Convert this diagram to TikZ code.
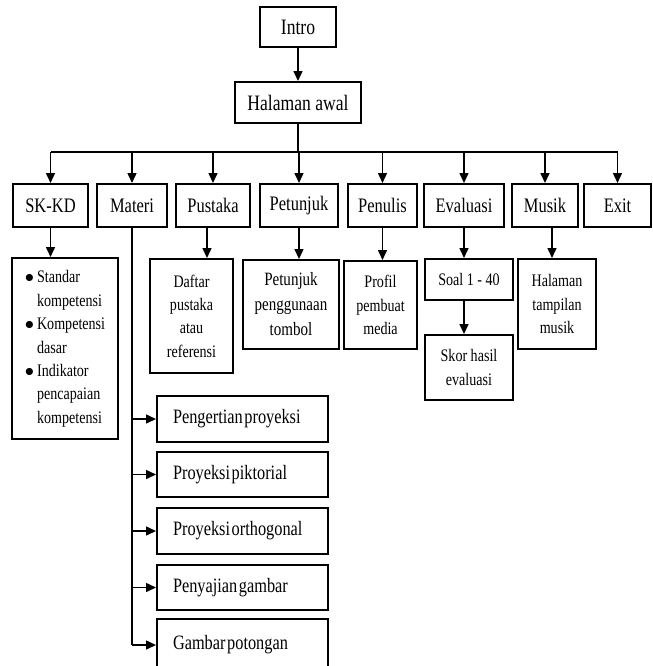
\documentclass[tikz,border=0pt]{standalone}
\usepackage{fontspec}
\setmainfont{Liberation Serif}[FakeStretch=0.8]
\newfontfamily\babfont{Liberation Serif}[FakeStretch=0.8,WordSpace=0.4]
\usetikzlibrary{arrows.meta,calc}
\newcommand{\babtext}[1]{\makebox[69.5pt][l]{#1}}
\tikzset{
  box/.style={draw, line width=1pt, inner sep=0pt, align=center},
  big/.style={font=\fontsize{11}{13}\selectfont},
  menu/.style={box, font=\fontsize{10.3}{12}\selectfont, minimum height=21.5pt},
  sub/.style={box, font=\fontsize{8.8}{11.7}\selectfont},
  bab/.style={box, font=\babfont\fontsize{10.2}{12}\selectfont, minimum width=85.5pt},
  link/.style={line width=0.75pt},
  arr/.style={link, -{Triangle[length=5pt,width=4.5pt]}}
}
\begin{document}
\begin{tikzpicture}[x=0.5pt,y=-0.5pt]
\useasboundingbox (0,0) rectangle (653,666);
\clip (0,0) rectangle (653,666);
% atas
\node [box,big,minimum width=38pt,minimum height=20pt] (intro) at (298,27) {Intro};
\node [box,big,minimum width=63pt,minimum height=20.5pt] (awal) at (298,102.5) {Halaman awal};
\draw [arr] (intro) -- (awal);
% menu utama
\node [menu,minimum width=37.5pt] (skkd) at (50.5,205.5) {SK-KD};
\node [menu,minimum width=35pt] (materi) at (132,205.5) {Materi};
\node [menu,minimum width=37pt] (pustaka) at (213,205.5) {Pustaka};
\node [menu,minimum width=39pt] (petunjuk) at (299,205.5) {Petunjuk};
\node [menu,minimum width=34.5pt] (penulis) at (382.5,205.5) {Penulis};
\node [menu,minimum width=40pt] (evaluasi) at (464,205.5) {Evaluasi};
\node [menu,minimum width=33pt] (musik) at (545,205.5) {Musik};
\node [menu,minimum width=33.5pt] (exit) at (617.5,205.5) {Exit};
\coordinate (bus) at (298,152);
\draw [link] (awal) -- (bus);
\draw [link] (bus -| skkd.north) -- (bus -| exit.north);
\foreach \m in {skkd,materi,pustaka,petunjuk,penulis,evaluasi,musik,exit}
  \draw [arr] (bus -| \m.north) -- (\m.north);
% isi menu
\node [sub,minimum width=53pt,minimum height=90.5pt] (sk) at (65,348.5)
  {\begin{tabular}{@{}l@{\,}l@{}}
   $\bullet$ & Standar\\ & kompetensi\\
   $\bullet$ & Kompetensi\\ & dasar\\
   $\bullet$ & Indikator\\ & pencapaian\\ & kompetensi
   \end{tabular}};
\node [sub,minimum width=41.5pt,minimum height=57pt] (daftar) at (191.5,316) {Daftar\\pustaka\\atau\\referensi};
\node [sub,font=\fontsize{9.4}{12.5}\selectfont,minimum width=48pt,minimum height=44.5pt] (tombol) at (291,304.5) {Petunjuk\\penggunaan\\tombol};
\node [sub,minimum width=36.5pt,minimum height=44pt] (profil) at (380.5,305) {Profil\\pembuat\\media};
\node [sub,minimum width=44pt,minimum height=20.5pt] (soal) at (469,279.5) {Soal 1 - 40};
\node [sub,minimum width=44pt,minimum height=32.5pt] (skor) at (469,367.5) {Skor hasil\\evaluasi};
\node [sub,minimum width=39pt,minimum height=45pt] (tampil) at (557,304) {Halaman\\tampilan\\musik};
\draw [arr] (skkd.south) -- (skkd.south |- sk.north);
\draw [arr] (pustaka.south) ++(-6,0) coordinate (pk) -- (pk |- daftar.north);
\draw [arr] (petunjuk.south) -- (petunjuk.south |- tombol.north);
\draw [arr] (penulis.south) -- (penulis.south |- profil.north);
\draw [arr] (evaluasi.south) -- (evaluasi.south |- soal.north);
\draw [arr] (evaluasi.south |- soal.south) -- (evaluasi.south |- skor.north);
\draw [arr] (musik.south) ++(7,0) coordinate (mk) -- (mk |- tampil.north);
% materi
\node [bab,minimum height=23pt] (p1) at (242.5,419) {\babtext{Pengertian proyeksi}};
\node [bab,minimum height=22.5pt] (p2) at (242.5,474.5) {\babtext{Proyeksi piktorial}};
\node [bab,minimum height=23pt] (p3) at (242.5,531) {\babtext{Proyeksi orthogonal}};
\node [bab,minimum height=22.5pt] (p4) at (242.5,587.5) {\babtext{Penyajian gambar}};
\node [bab,minimum height=26pt] (p5) at (242.5,645) {\babtext{Gambar potongan}};
\draw [link] (materi.south) -- (materi.south |- p5.west);
\foreach \p in {p1,p2,p3,p4}
  \draw [arr] (materi.south |- \p.west) -- (\p.west);
\draw [arr] (materi.south |- p5.west) -- (p5.west);
\end{tikzpicture}
\end{document}
